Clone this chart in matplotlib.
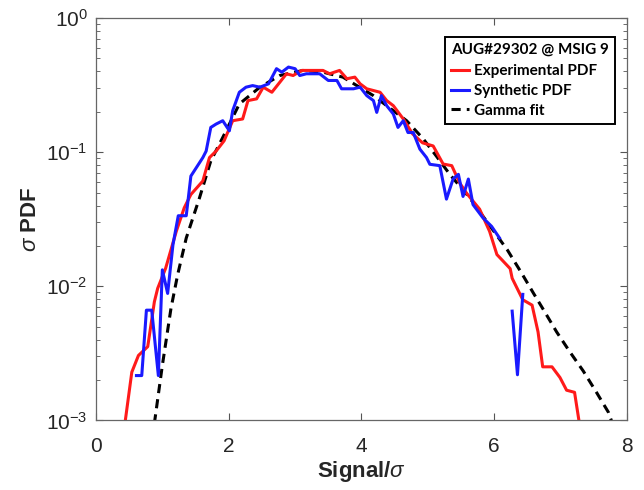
# Recreate: PDF of Signal/sigma, experimental vs synthetic vs gamma fit
import matplotlib.pyplot as plt
import numpy as np

plt.rcParams['font.family'] = ['Liberation Sans', 'DejaVu Sans']
plt.rcParams['mathtext.fontset'] = 'custom'
plt.rcParams['mathtext.rm'] = 'Liberation Sans'
plt.rcParams['mathtext.it'] = 'Liberation Sans:italic'
plt.rcParams['mathtext.bf'] = 'Liberation Sans:bold'

# Experimental PDF (red)
exp_x = [0.43, 0.54, 0.64, 0.78, 0.88, 0.93, 1.05, 1.21, 1.33, 1.43, 1.61, 1.71,
         1.81, 1.93, 2.06, 2.21, 2.29, 2.42, 2.52, 2.65, 2.77, 2.87, 2.97, 3.10,
         3.42, 3.52, 3.67, 3.78, 3.90, 3.98, 4.08, 4.28, 4.38, 4.48, 4.63, 4.77,
         4.92, 5.08, 5.23, 5.36, 5.48, 5.59, 5.78, 5.93, 6.04, 6.24, 6.27, 6.43,
         6.57, 6.66, 6.73, 6.87, 6.99, 7.09, 7.21, 7.29]
exp_y = [0.0009, 0.00229, 0.00305, 0.00355, 0.00767, 0.00966, 0.01365, 0.0257,
         0.0385, 0.0484, 0.061, 0.0912, 0.102, 0.1216, 0.1718, 0.177, 0.2427,
         0.25, 0.3055, 0.28, 0.3327, 0.3846, 0.3733, 0.4074, 0.4074, 0.3846,
         0.4074, 0.3532, 0.3631, 0.3236, 0.2972, 0.28, 0.2427, 0.2223, 0.177,
         0.1371, 0.1175, 0.1114, 0.0817, 0.0794, 0.0589, 0.049, 0.0376, 0.0257,
         0.01726, 0.01355, 0.01148, 0.00794, 0.00724, 0.00457, 0.00251, 0.00251,
         0.00209, 0.00168, 0.00162, 0.0009]

# Synthetic PDF (blue), gap between the two pieces
syn_x = [0.61, 0.69, 0.76, 0.84, 0.94, 1.00, 1.08, 1.16, 1.24, 1.36, 1.43, 1.61,
         1.66, 1.73, 1.81, 1.91, 2.01, 2.06, 2.16, 2.26, 2.36, 2.47, 2.60, 2.72,
         2.80, 2.90, 3.00, 3.07, 3.17, 3.37, 3.50, 3.63, 3.70, 3.88, 3.98, 4.08,
         4.18, 4.23, 4.30, 4.38, 4.48, 4.55, 4.63, 4.70, 4.78, 4.88, 4.98, 5.03,
         5.18, 5.28, 5.38, 5.46, 5.53, 5.61, 5.68, 5.83, 5.96, 6.08, np.nan,
         6.27, 6.35, 6.43]
syn_y = [0.00216, 0.00216, 0.00664, 0.00664, 0.00216, 0.01327, 0.00885, 0.0204,
         0.0336, 0.0336, 0.0664, 0.0912, 0.102, 0.1531, 0.1622, 0.1718, 0.1445,
         0.2042, 0.28, 0.3055, 0.314, 0.3055, 0.3236, 0.4198, 0.3954, 0.4315,
         0.4198, 0.3733, 0.3846, 0.3846, 0.3428, 0.3428, 0.2972, 0.2972, 0.3055,
         0.2642, 0.2427, 0.1982, 0.2642, 0.2223, 0.1928, 0.1531, 0.1718, 0.1403,
         0.1403, 0.1054, 0.0912, 0.0813, 0.0794, 0.0447, 0.0631, 0.0684, 0.0468,
         0.0631, 0.0407, 0.0324, 0.028, 0.0229, np.nan,
         0.00653, 0.00219, 0.00871]

# Gamma fit (black dashed)
gam_x = [0.88, 1.00, 1.13, 1.23, 1.36, 1.56, 1.73, 1.91, 2.16, 2.47, 2.77, 3.12,
         3.42, 3.72, 3.93, 4.18, 4.38, 4.68, 4.93, 5.13, 5.33, 5.63, 6.20, 6.41,
         6.59, 6.76, 6.94, 7.14, 7.34, 7.54, 7.72, 7.78]
gam_y = [0.00095, 0.00257, 0.00684, 0.01216, 0.0229, 0.0457, 0.0861, 0.1288,
         0.229, 0.3055, 0.3733, 0.4074, 0.3954, 0.3631, 0.314, 0.2642, 0.2223,
         0.1718, 0.1259, 0.0933, 0.0684, 0.0457, 0.0186, 0.0126, 0.0089, 0.00646,
         0.00457, 0.00324, 0.00234, 0.00162, 0.00115, 0.00095]

fig = plt.figure(figsize=(6.44, 4.9), dpi=100)
ax = fig.add_axes([0.149, 0.142, 0.8246, 0.821])

ax.plot(exp_x, exp_y, color='#ff1a1a', lw=2.2, label='Experimental PDF', zorder=3)
ax.plot(syn_x, syn_y, color='#1a1aff', lw=2.2, label='Synthetic PDF', zorder=4)
ax.plot(gam_x, gam_y, color='black', lw=2.2, ls=(0, (3, 2)), label='Gamma fit',
        zorder=2)

ax.set_yscale('log')
ax.set_xlim(0, 8)
ax.set_ylim(1e-3, 1)
ax.set_xticks([0, 2, 4, 6, 8])

ax.tick_params(which='both', direction='in', top=True, right=True,
               colors='#555555', labelcolor='#262626', labelsize=15, pad=6)
ax.tick_params(axis='x', pad=12)
ax.tick_params(which='major', length=5)
ax.tick_params(which='minor', length=3)
for s in ax.spines.values():
    s.set_color('#666666')
    s.set_linewidth(0.9)

ax.set_xlabel(r'Signal/$\sigma$', fontsize=16, fontweight='bold', color='#262626',
              labelpad=2)
ax.set_ylabel(r'$\sigma$ PDF', fontsize=16, fontweight='bold', color='#262626',
              labelpad=4)

leg = ax.legend(title='AUG#29302 @ MSIG 9', loc='upper right',
                bbox_to_anchor=(0.977, 0.953), borderaxespad=0,
                handlelength=1.2, handletextpad=0.3, borderpad=0.4,
                labelspacing=0.38, fancybox=False, framealpha=1,
                prop={'family': 'Lato', 'weight': 'bold', 'size': 11},
                title_fontproperties={'family': 'Lato', 'weight': 'bold',
                                      'size': 11})
leg.get_frame().set_edgecolor('black')
leg.get_frame().set_linewidth(1.4)
leg._legend_box.align = 'left'
leg._legend_box.sep = 5

fig.savefig('out.png', dpi=100)
